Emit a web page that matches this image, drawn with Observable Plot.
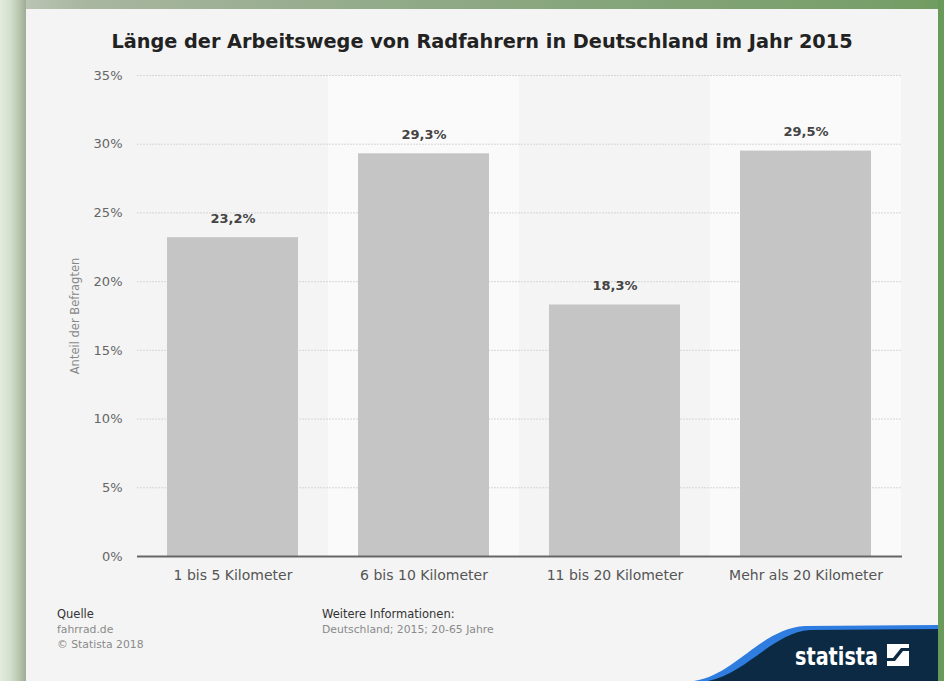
<!DOCTYPE html>
<html>
<head>
<meta charset="utf-8">
<script src="https://cdn.jsdelivr.net/npm/d3@7"></script>
<script src="https://cdn.jsdelivr.net/npm/@observablehq/plot@0.6"></script>
<style>
  html, body { margin: 0; padding: 0; }
  body { width: 944px; height: 681px; position: relative; overflow: hidden; font-family: "DejaVu Sans", sans-serif; background: #6f9c61; }
  #leftBorder { position: absolute; left: 0; top: 0; width: 26px; height: 681px;
    background: linear-gradient(to right, #e3ecdf 0px, #d3e0cd 10px, #bccab4 18px, #9eac96 26px); }
  #topBorder { position: absolute; left: 26px; top: 0; width: 918px; height: 9px;
    background: linear-gradient(to right, #b9c5b2 0px, #a8b6a0 60px, #8fa986 400px, #789f6a 850px, #6f9c60 918px); }
  #rightBorder { position: absolute; left: 938px; top: 0; width: 6px; height: 681px; background: #6a9a5a; }
  #card { position: absolute; left: 26px; top: 9px; width: 912px; height: 672px; background: #f4f4f4; }
  #title { position: absolute; left: 26px; top: 31px; width: 912px; text-align: center; font-size: 19.3px; font-weight: bold; line-height: 22px; color: #222; }
  #chart { position: absolute; left: 26px; top: 60px; }
  .foot { position: absolute; font-size: 10.8px; line-height: 15px; color: #8a8a8a; }
  .foot .h { color: #333; font-size: 11.5px; }
  #logo { position: absolute; left: 690px; top: 620px; }
</style>
</head>
<body>
<div id="leftBorder"></div>
<div id="topBorder"></div>
<div id="rightBorder"></div>
<div id="card"></div>
<div id="title">Länge der Arbeitswege von Radfahrern in Deutschland im Jahr 2015</div>
<div id="chart"></div>
<div class="foot" style="left:57px; top:607px;"><div class="h">Quelle</div><div>fahrrad.de</div><div>© Statista 2018</div></div>
<div class="foot" style="left:322px; top:607px;"><div class="h">Weitere Informationen:</div><div>Deutschland; 2015; 20-65 Jahre</div></div>
<svg id="logo" width="248" height="61" viewBox="0 0 248 61">
  <path d="M4,61 C45,55 72,8 115,6 L248,5 L248,61 Z" fill="#2f7de1"/>
  <path d="M18,61 C57,53 84,12 120,10 L248,9 L248,61 Z" fill="#0c2a43"/>
  <text x="105" y="45" fill="#ffffff" font-family="DejaVu Sans" font-weight="bold" font-size="24" textLength="83" lengthAdjust="spacingAndGlyphs">statista</text>
  <rect x="197" y="24" width="22" height="22" fill="#ffffff"/>
  <polygon points="197,41 205,41 213,31 219,31 219,28 211,28 203,38 197,38" fill="#0c2a43"/>
</svg>
<script>
const categories = ["1 bis 5 Kilometer", "6 bis 10 Kilometer", "11 bis 20 Kilometer", "Mehr als 20 Kilometer"];
const values = [23.2, 29.3, 18.3, 29.5];
const valueLabels = ["23,2%", "29,3%", "18,3%", "29,5%"];
const yTicks = [0, 5, 10, 15, 20, 25, 30, 35];
const yLabel = "Anteil der Befragten";

const data = categories.map((c, i) => ({cat: c, value: values[i], label: valueLabels[i], idx: i}));

const W = 912, H = 536, ML = 111, MR = 36, MT = 15, MB = 40;
const padInner = 0.314;
const step = (W - ML - MR) / categories.length;
const bandInset = -step * padInner / 2;

const chart = Plot.plot({
  width: W, height: H,
  marginLeft: ML, marginRight: MR, marginTop: MT, marginBottom: MB,
  style: {fontFamily: "DejaVu Sans, sans-serif", background: "transparent", overflow: "visible"},
  x: {domain: categories, paddingInner: padInner, paddingOuter: padInner / 2},
  y: {domain: [0, 35]},
  marks: [
    Plot.barY(data.filter(d => d.idx % 2 === 1), {x: "cat", y1: 0, y2: 35, fill: "#fafafa", insetLeft: bandInset, insetRight: bandInset}),
    Plot.ruleY(yTicks.filter(t => t > 0), {stroke: "#d6d6d6", strokeDasharray: "2,1"}),
    Plot.barY(data, {x: "cat", y: "value", fill: "#c5c5c5"}),
    Plot.ruleY([0], {stroke: "#666666", strokeWidth: 2}),
    Plot.text(data, {x: "cat", y: "value", text: "label", dy: -19, fontWeight: "bold", fontSize: 13, fill: "#444444"}),
    Plot.axisY({ticks: yTicks, tickFormat: d => d + "%", tickSize: 0, tickPadding: 15, fontSize: 13, color: "#666666", label: null}),
    Plot.axisY({ticks: [], label: yLabel, labelAnchor: "center", labelArrow: "none", labelOffset: 67, fontSize: 11.5, color: "#888888"}),
    Plot.axisX({tickSize: 0, tickPadding: 14, fontSize: 14, color: "#555555", label: null})
  ]
});
document.getElementById("chart").appendChild(chart);
</script>
</body>
</html>
